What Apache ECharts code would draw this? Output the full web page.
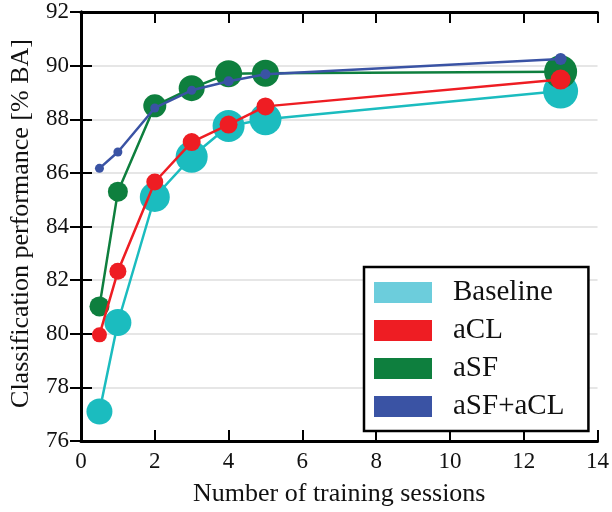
<!DOCTYPE html>
<html>
<head>
<meta charset="utf-8">
<script src="https://cdn.jsdelivr.net/npm/echarts@6/dist/echarts.min.js"></script>
<style>html,body{margin:0;padding:0;background:#fff}#c{width:612px;height:512px}</style>
</head>
<body>
<div id="c"></div>
<script>
var sessions = [0.5, 1, 2, 3, 4, 5, 13];
var baseline = [77.1, 80.42, 85.1, 86.6, 87.75, 88.0, 89.05];
var aCL = [79.96, 82.33, 85.66, 87.15, 87.8, 88.48, 89.48];
var aSF = [81.02, 85.3, 88.5, 89.16, 89.7, 89.72, 89.77];
var aSFaCL = [86.17, 86.78, 88.42, 89.08, 89.42, 89.68, 90.25];
var seriesNames = ['Baseline', 'aCL', 'aSF', 'aSF+aCL'];
var xTicks = [0, 2, 4, 6, 8, 10, 12, 14];
var yTicks = [76, 78, 80, 82, 84, 86, 88, 90, 92];

// marker diameters (style)
var sizeBase = [26, 27, 30, 32, 32, 32, 35];
var sizeACL = [15, 17, 17, 18, 18, 18, 20];
var sizeASF = [20, 20, 23, 26, 27, 27, 33];
var sizeBoth = [9, 9, 9, 9, 10, 10, 12];

var FONT = '"Liberation Serif", "DejaVu Serif", serif';
function pairs(ys){ return sessions.map(function(x,i){ return [x, ys[i]]; }); }
function mk(name, ys, color, sizes, lw, z){
  return {
    name: name, type: 'line', data: pairs(ys), z: z,
    symbol: 'circle',
    symbolSize: function(v, p){ return sizes[p.dataIndex]; },
    lineStyle: {color: color, width: lw},
    itemStyle: {color: color},
    emphasis: {disabled: true},
    animation: false
  };
}
var chart = echarts.init(document.getElementById('c'));
var axisCommon = {
  min: 0, max: 14, interval: 2,
  axisLine: {show: true, lineStyle: {color: '#000', width: 3}},
  axisTick: {show: true, inside: true, length: 11, lineStyle: {color: '#000', width: 2}},
  splitLine: {show: false}
};
chart.setOption({
  animation: false,
  grid: {left: 80, right: 14, top: 12, bottom: 68, containLabel: false},
  xAxis: [
    Object.assign({}, axisCommon, {
      type: 'value', position: 'bottom',
      axisLabel: {show: true, margin: 9, color: '#111', fontFamily: FONT, fontSize: 23,
        formatter: function(v){ return xTicks.indexOf(v) >= 0 ? String(v) : ''; }},
      name: 'Number of training sessions', nameLocation: 'middle', nameGap: 40,
      nameTextStyle: {fontFamily: FONT, fontSize: 26, color: '#111'}
    }),
    Object.assign({}, axisCommon, {type: 'value', position: 'top', axisLabel: {show: false}})
  ],
  yAxis: [
    {
      type: 'value', min: 76, max: 92, interval: 2, position: 'left',
      axisLine: {show: true, lineStyle: {color: '#000', width: 3}},
      axisTick: {show: true, inside: true, length: 11, lineStyle: {color: '#000', width: 2}},
      splitLine: {show: true, lineStyle: {color: '#e6e6e6', width: 2}},
      axisLabel: {show: true, margin: 12, color: '#111', fontFamily: FONT, fontSize: 23,
        formatter: function(v){ return yTicks.indexOf(v) >= 0 ? String(v) : ''; }},
      name: 'Classification performance [% BA]', nameLocation: 'middle', nameGap: 47,
      nameTextStyle: {fontFamily: FONT, fontSize: 26, color: '#111', padding: [0, 0, 0, 6]}
    },
    {
      type: 'value', min: 76, max: 92, interval: 2, position: 'right',
      axisLine: {show: true, lineStyle: {color: '#000', width: 3}},
      axisTick: {show: true, inside: true, length: 11, lineStyle: {color: '#000', width: 2}},
      splitLine: {show: false}, axisLabel: {show: false}
    }
  ],
  legend: {
    left: 364, top: 267, orient: 'vertical',
    backgroundColor: '#fff', borderColor: '#000', borderWidth: 2.5, borderRadius: 0,
    padding: [11, 24, 10, 10],
    itemWidth: 58, itemHeight: 21, itemGap: 9,
    icon: 'rect',
    textStyle: {fontFamily: FONT, fontSize: 29, color: '#111', lineHeight: 29, padding: [0, 0, 0, 16]},
    data: [
      {name: 'Baseline', itemStyle: {color: '#6ccddc'}},
      {name: 'aCL', itemStyle: {color: '#ee1d23'}},
      {name: 'aSF', itemStyle: {color: '#0e7f3e'}},
      {name: 'aSF+aCL', itemStyle: {color: '#3a53a4'}}
    ],
    selectedMode: false
  },
  series: [
    mk(seriesNames[0], baseline, '#1bbcbf', sizeBase, 2.5, 2),
    mk(seriesNames[2], aSF, '#0e7f3e', sizeASF, 2.5, 3),
    mk(seriesNames[1], aCL, '#ee1d23', sizeACL, 2.5, 4),
    mk(seriesNames[3], aSFaCL, '#3a53a4', sizeBoth, 2.5, 5)
  ]
});
</script>
</body>
</html>
